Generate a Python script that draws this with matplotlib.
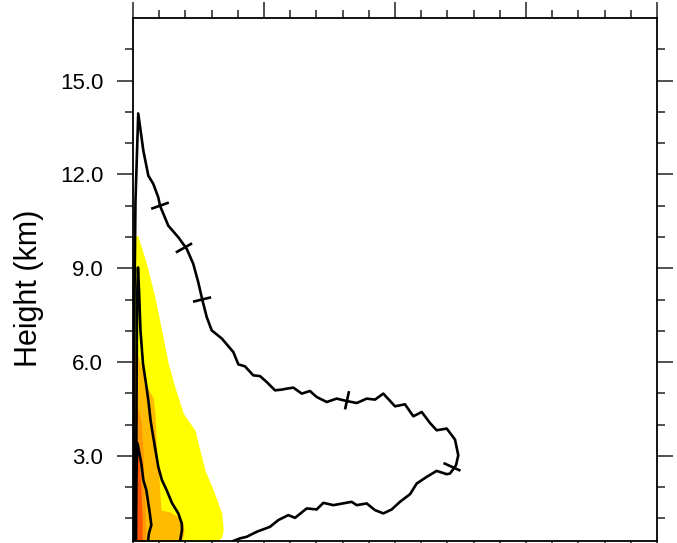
import numpy as np
import matplotlib
matplotlib.use("Agg")
import matplotlib.pyplot as plt

plt.rcParams['font.family'] = ['Liberation Sans', 'DejaVu Sans']

# ---------------- data (x in arbitrary units 0..4, height in km) ----------------
# shaded levels: right edge (x) vs height, left edge is the axis (x=0)
yellow_h = [0.28, 0.41, 0.63, 1.17, 1.91, 2.54, 3.18, 3.82, 4.36, 5.19, 5.96, 7.01, 8.06, 9.08, 9.72, 10.04]
yellow_w = [0.649, 0.677, 0.689, 0.677, 0.613, 0.550, 0.511, 0.473, 0.384, 0.321, 0.269, 0.219, 0.168, 0.107, 0.061, 0.035]

orange_h = [0.28, 0.53, 0.85, 1.05, 1.21, 1.27, 1.91, 2.77, 3.41, 4.36, 4.87, 5.03, 5.32, 5.89, 6.37]
orange_w = [0.372, 0.389, 0.384, 0.346, 0.282, 0.214, 0.204, 0.191, 0.178, 0.168, 0.153, 0.130, 0.099, 0.061, 0.025]

dorange_h = [0.28, 1.27, 2.22, 3.18, 4.14, 4.78]
dorange_w = [0.099, 0.092, 0.084, 0.076, 0.061, 0.020]

red_h = [0.28, 0.95, 1.91, 2.86, 3.60]
red_w = [0.069, 0.069, 0.061, 0.046, 0.012]

shade_colors = ['#FFFF00', '#FFBB00', '#FF9800', '#FF5500']

# outer contour (closed against the axis)
outer_x = [0.008, 0.008, 0.011, 0.019, 0.031, 0.040,
           0.079, 0.117, 0.155, 0.193, 0.206, 0.269, 0.346, 0.410, 0.460, 0.498, 0.529,
           0.563, 0.601, 0.677, 0.766, 0.804, 0.855, 0.918, 0.969, 1.021, 1.084, 1.135,
           1.173, 1.224, 1.288, 1.351, 1.402, 1.479, 1.555, 1.631, 1.708, 1.784, 1.847,
           1.911, 2.000, 2.076, 2.140, 2.204, 2.267, 2.318, 2.395, 2.458, 2.483, 2.466,
           2.420, 2.395, 2.318, 2.242, 2.166, 2.115, 2.038, 1.975, 1.911, 1.847, 1.784,
           1.708, 1.669, 1.529, 1.453, 1.402, 1.326, 1.237, 1.185, 1.109, 1.046, 0.944,
           0.868, 0.817, 0.763]
outer_y = [0.277, 4.778, 7.970, 11.162, 12.758, 13.948,
           12.758, 11.960, 11.695, 11.267, 11.002, 10.363, 9.990, 9.620, 9.141, 8.554, 7.992,
           7.437, 7.012, 6.757, 6.319, 5.927, 5.863, 5.576, 5.553, 5.362, 5.097, 5.119,
           5.151, 5.183, 4.992, 5.075, 4.883, 4.724, 4.832, 4.755, 4.692, 4.832, 4.800,
           4.992, 4.586, 4.650, 4.267, 4.404, 4.053, 3.820, 3.875, 3.523, 3.022, 2.703,
           2.438, 2.416, 2.521, 2.330, 2.119, 1.778, 1.532, 1.289, 1.162, 1.267, 1.481,
           1.426, 1.532, 1.426, 1.500, 1.289, 1.321, 1.021, 1.107, 0.948, 0.734, 0.574,
           0.415, 0.364, 0.277]
# small tick marks crossing the outer contour
outer_tick_x = [0.206, 0.389, 0.527, 1.634, 2.435]
outer_tick_y = [11.00, 9.65, 8.00, 4.78, 2.65]

# inner contour 1
in1_x = [0.023, 0.027, 0.031, 0.038, 0.046, 0.057, 0.076, 0.099, 0.117, 0.134, 0.155,
         0.193, 0.221, 0.257, 0.298, 0.346, 0.372, 0.374, 0.359]
in1_y = [0.277, 4.778, 7.970, 9.023, 8.289, 7.012, 5.959, 5.320, 4.778, 4.139, 3.597,
         2.649, 2.224, 1.905, 1.490, 1.162, 0.842, 0.628, 0.277]

# inner contour 2
in2_x = [0.019, 0.023, 0.034, 0.063, 0.079, 0.102, 0.128, 0.140, 0.122, 0.115]
in2_y = [0.277, 2.224, 3.405, 2.767, 2.224, 1.905, 1.171, 0.788, 0.533, 0.277]

y_ticks = [3.0, 6.0, 9.0, 12.0, 15.0]
y_ticklabels = ['3.0', '6.0', '9.0', '12.0', '15.0']

# ---------------- figure ----------------
W, H = 677, 543
fig = plt.figure(figsize=(W / 100, H / 100), dpi=100)
ax = fig.add_axes([133 / W, 1 - 541 / H, (657 - 133) / W, (541 - 18) / H])
ax.set_xlim(0, 4)
ax.set_ylim(0.28, 17.0)

for (hh, ww), c in zip([(yellow_h, yellow_w), (orange_h, orange_w),
                        (dorange_h, dorange_w), (red_h, red_w)], shade_colors):
    ax.fill_betweenx(hh, 0, ww, color=c, lw=0, zorder=1)

lw = 1.9
ax.plot(outer_x, outer_y, color='black', lw=lw, zorder=3, solid_joinstyle='round')
ax.plot(in1_x, in1_y, color='black', lw=lw, zorder=3, solid_joinstyle='round')
ax.plot(in2_x, in2_y, color='black', lw=lw, zorder=3, solid_joinstyle='round')

# perpendicular ticks on outer contour (computed in display space)
trans = ax.transData
pts = trans.transform(np.column_stack([outer_x, outer_y]))
inv = trans.inverted()
L = 16.0
for tx, ty in zip(outer_tick_x, outer_tick_y):
    p = trans.transform((tx, ty))
    d = np.hypot(pts[:, 0] - p[0], pts[:, 1] - p[1])
    i = int(np.argmin(d))
    t = pts[min(i + 1, len(pts) - 1)] - pts[max(i - 1, 0)]
    t = t / np.hypot(*t)
    n = np.array([-t[1], t[0]])
    a = inv.transform(p - n * L / 2)
    b = inv.transform(p + n * L / 2)
    ax.plot([a[0], b[0]], [a[1], b[1]], color='black', lw=lw, zorder=3)

# axes styling (NCL-like)
for s in ax.spines.values():
    s.set_linewidth(1.3)
    s.set_zorder(4)

ax.set_xticks([0, 1, 2, 3, 4])
ax.set_xticks(np.arange(0, 4.01, 0.2), minor=True)
ax.set_yticks(y_ticks)
ax.set_yticklabels(y_ticklabels)
ax.set_yticks(np.arange(1, 17, 1), minor=True)

ax.tick_params(which='both', direction='out', top=True, right=True, bottom=True, left=True,
               labelbottom=False, labeltop=False, labelright=False, labelleft=True,
               width=1.1, color='#222222')
ax.tick_params(which='major', length=11.5, labelsize=16, pad=10)
ax.tick_params(which='minor', length=5.8)

fig.text(29 / W, 1 - 288 / H, 'Height (km)', rotation=90, ha='center', va='center',
         fontsize=22)

fig.savefig('out.png', dpi=100)
